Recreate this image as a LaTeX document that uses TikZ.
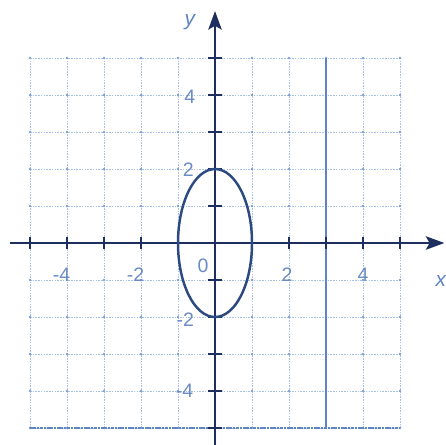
\documentclass[tikz,border=0pt]{standalone}
\usepackage{fontspec}
\setsansfont{Liberation Sans}
\usetikzlibrary{arrows.meta}
\definecolor{gridblue}{HTML}{A6C0E6}
\definecolor{dotblue}{HTML}{7F9FD0}
\definecolor{axisnavy}{HTML}{1C2F5E}
\definecolor{curveblue}{HTML}{2C4A82}
\definecolor{labelblue}{HTML}{6A8CC2}
\definecolor{midblue}{HTML}{5F84C2}
\tikzset{
  gridline/.style={gridblue, line width=0.7pt, dash pattern=on 1.2pt off 0.9pt},
  axisline/.style={axisnavy, line width=2pt, -{Stealth[length=5mm,width=3.6mm,inset=1mm]}},
  tickmark/.style={axisnavy, line width=1pt},
  ticklabel/.style={labelblue, font=\sffamily\fontsize{15}{17}\selectfont, inner sep=0pt},
  axislabel/.style={midblue, font=\sffamily\itshape\fontsize{16}{18}\selectfont, inner sep=0pt},
  curve/.style={curveblue, line width=1.9pt}
}
\begin{document}
\begin{tikzpicture}
\useasboundingbox (-5.811,-5.459) rectangle (6.243,6.568);
% grid
\foreach \i in {-5,...,5} {
  \draw[gridline] (\i,-5) -- (\i,5);
  \draw[gridline] (-5,\i) -- (5,\i);
}
\foreach \i in {-5,...,5} \foreach \j in {-5,...,5} {
  \fill[dotblue] (\i,\j) circle (0.035);
}
% darker lines
\draw[midblue, line width=1pt] (3,-5) -- (3,5);
\draw[midblue, line width=0.9pt, dash pattern=on 2pt off 0.6pt] (-5,-5) -- (5,-5);
% axes
\coordinate (xs) at (-5.55,0);
\coordinate (xe) at (6.2,0);
\coordinate (ys) at (0,-5.5);
\coordinate (ye) at (0,6.27);
\draw[axisline] (xs) -- (xe);
\draw[axisline] (ys) -- (ye);
% ticks
\foreach \i in {-5,...,5} {
  \draw[tickmark] (\i,-0.15) -- (\i,0.15);
  \draw[tickmark] (-0.2,\i) -- (0.2,\i);
}
% ellipse
\draw[curve] (0,0) ellipse (1 and 2);
% labels
\node[axislabel] (ylab) at (-0.68,5.97) {y};
\node[axislabel] (xlab) at (6.1,-1.03) {x};
\node[ticklabel] (xm4) at (-4.15,-0.86) {-4};
\node[ticklabel] (xm2) at (-2.15,-0.86) {-2};
\node[ticklabel] (xp2) at (1.95,-0.86) {2};
\node[ticklabel] (xp4) at (4.0,-0.86) {4};
\node[ticklabel] (zero) at (-0.32,-0.62) {0};
\node[ticklabel] (yp4) at (-0.68,3.95) {4};
\node[ticklabel] (yp2) at (-0.72,1.97) {2};
\node[ticklabel] (ym2) at (-0.8,-2.08) {-2};
\node[ticklabel] (ym4) at (-0.82,-4.0) {-4};
\end{tikzpicture}
\end{document}
